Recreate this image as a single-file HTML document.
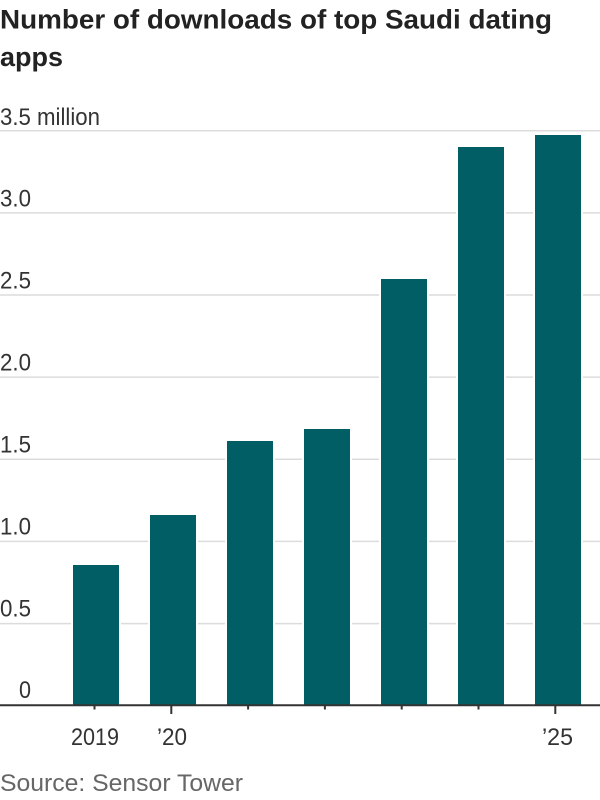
<!DOCTYPE html>
<html>
<head>
<meta charset="utf-8">
<style>
  html, body { margin:0; padding:0; background:#fff; }
  svg { display:block; }
  text { font-family: "Liberation Sans", "DejaVu Sans", sans-serif; }
</style>
</head>
<body>
<svg width="600" height="800" viewBox="0 0 600 800" xmlns="http://www.w3.org/2000/svg">
  <rect x="0" y="0" width="600" height="800" fill="#fff"/>
  <!-- Title -->
  <text x="0" y="28.5" font-size="27" font-weight="bold" fill="#222" textLength="552" lengthAdjust="spacingAndGlyphs">Number of downloads of top Saudi dating</text>
  <text x="0" y="66" font-size="27" font-weight="bold" fill="#222" textLength="63" lengthAdjust="spacingAndGlyphs">apps</text>

  <!-- Gridlines -->
  <g stroke="#dcdcdc" stroke-width="1.5">
    <line x1="0" x2="600" y1="623.6" y2="623.6"/>
    <line x1="0" x2="600" y1="541.4" y2="541.4"/>
    <line x1="0" x2="600" y1="459.3" y2="459.3"/>
    <line x1="0" x2="600" y1="377.1" y2="377.1"/>
    <line x1="0" x2="600" y1="295.0" y2="295.0"/>
    <line x1="0" x2="600" y1="212.9" y2="212.9"/>
    <line x1="0" x2="600" y1="130.7" y2="130.7"/>
  </g>

  <!-- Y labels -->
  <g font-size="24" fill="#333">
    <text x="0" y="125" textLength="100" lengthAdjust="spacingAndGlyphs">3.5 million</text>
    <text x="31" y="206.5" text-anchor="end" textLength="31" lengthAdjust="spacingAndGlyphs">3.0</text>
    <text x="31" y="288.5" text-anchor="end" textLength="31" lengthAdjust="spacingAndGlyphs">2.5</text>
    <text x="31" y="370.5" text-anchor="end" textLength="31" lengthAdjust="spacingAndGlyphs">2.0</text>
    <text x="31" y="452.5" text-anchor="end" textLength="31" lengthAdjust="spacingAndGlyphs">1.5</text>
    <text x="31" y="534.5" text-anchor="end" textLength="31" lengthAdjust="spacingAndGlyphs">1.0</text>
    <text x="31" y="616.5" text-anchor="end" textLength="31" lengthAdjust="spacingAndGlyphs">0.5</text>
    <text x="31" y="698" text-anchor="end" textLength="12" lengthAdjust="spacingAndGlyphs">0</text>
  </g>

  <!-- Bar white outlines (gridline gaps) -->
  <g fill="#fff">
    <rect x="71" y="563" width="50" height="142"/>
    <rect x="148" y="513" width="50" height="192"/>
    <rect x="225" y="439" width="50" height="266"/>
    <rect x="302" y="427" width="50" height="278"/>
    <rect x="379" y="277" width="50" height="428"/>
    <rect x="456" y="145" width="50" height="560"/>
    <rect x="533" y="133" width="50" height="572"/>
  </g>
  <!-- Bars -->
  <g fill="#025e65">
    <rect x="73" y="565" width="46" height="140"/>
    <rect x="150" y="515" width="46" height="190"/>
    <rect x="227" y="441" width="46" height="264"/>
    <rect x="304" y="429" width="46" height="276"/>
    <rect x="381" y="279" width="46" height="426"/>
    <rect x="458" y="147" width="46" height="558"/>
    <rect x="535" y="135" width="46" height="570"/>
  </g>

  <!-- Axis -->
  <line x1="0" x2="600" y1="705.3" y2="705.3" stroke="#333" stroke-width="2"/>
  <g stroke="#333" stroke-width="2">
    <line x1="94.5" x2="94.5" y1="705" y2="709.5"/>
    <line x1="171.3" x2="171.3" y1="705" y2="714"/>
    <line x1="248.1" x2="248.1" y1="705" y2="709.5"/>
    <line x1="324.9" x2="324.9" y1="705" y2="709.5"/>
    <line x1="401.7" x2="401.7" y1="705" y2="709.5"/>
    <line x1="478.5" x2="478.5" y1="705" y2="709.5"/>
    <line x1="555.3" x2="555.3" y1="705" y2="714"/>
  </g>

  <!-- X labels -->
  <g font-size="24" fill="#333">
    <text x="71" y="745" textLength="48" lengthAdjust="spacingAndGlyphs">2019</text>
    <text x="157" y="745" textLength="30" lengthAdjust="spacingAndGlyphs">’20</text>
    <text x="542" y="745" textLength="31" lengthAdjust="spacingAndGlyphs">’25</text>
  </g>

  <!-- Source -->
  <text x="0" y="791" font-size="24" fill="#666" textLength="243" lengthAdjust="spacingAndGlyphs">Source: Sensor Tower</text>
</svg>
</body>
</html>
